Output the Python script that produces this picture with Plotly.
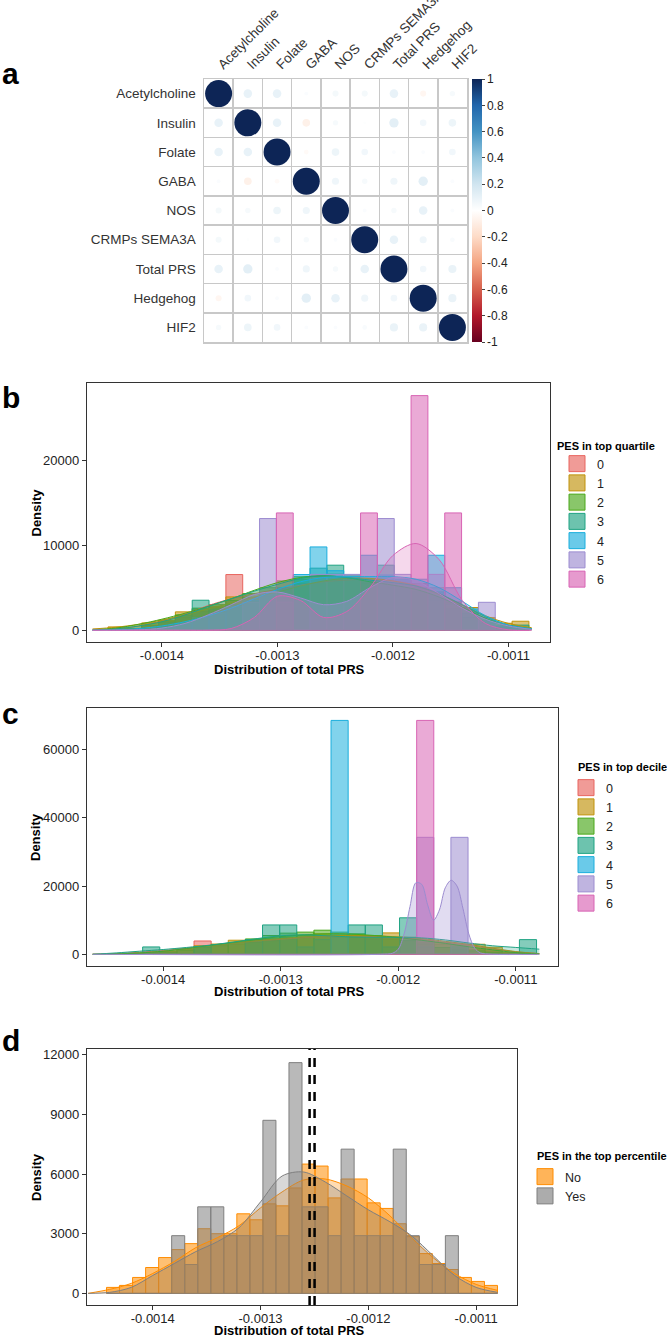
import plotly.graph_objects as go

W, H = 667, 1337
FONT = "Liberation Sans, Arial, Helvetica, sans-serif"
_BLACK = "#000000"
_TXT = "#222222"

# ---------------- panel a: correlation matrix ----------------
pathways = ["Acetylcholine", "Insulin", "Folate", "GABA", "NOS",
            "CRMPs SEMA3A", "Total PRS", "Hedgehog", "HIF2"]
corr_matrix = [
    [1.00, 0.10, 0.10, 0.02, 0.05, 0.05, 0.10, -0.05, 0.04],
    [0.10, 1.00, 0.10, -0.08, 0.04, 0.01, 0.12, 0.06, 0.08],
    [0.10, 0.10, 1.00, -0.03, 0.08, 0.06, 0.02, 0.02, 0.06],
    [0.02, -0.08, -0.03, 1.00, 0.07, 0.04, 0.07, 0.12, 0.02],
    [0.05, 0.04, 0.08, 0.07, 1.00, 0.02, 0.04, 0.10, 0.02],
    [0.05, 0.01, 0.06, 0.04, 0.02, 1.00, 0.10, 0.07, 0.03],
    [0.10, 0.12, 0.02, 0.07, 0.04, 0.10, 1.00, 0.06, 0.09],
    [-0.05, 0.06, 0.02, 0.12, 0.10, 0.07, 0.06, 1.00, 0.09],
    [0.04, 0.08, 0.06, 0.02, 0.02, 0.03, 0.09, 0.09, 1.00],
]
cbar_ticks = [1, 0.8, 0.6, 0.4, 0.2, 0, -0.2, -0.4, -0.6, -0.8, -1]
cbar_text = ["1", "0.8", "0.6", "0.4", "0.2", "0", "-0.2", "-0.4", "-0.6", "-0.8", "-1"]
corr_colors = ["#67001F", "#B2182B", "#D6604D", "#F4A582", "#FDDBC7", "#FFFFFF",
               "#D1E5F0", "#92C5DE", "#4393C3", "#2166AC", "#0D2556"]

# ---------------- histograms (b, c): 25 shared bins ----------------
groups = ["0", "1", "2", "3", "4", "5", "6"]
group_colors = ["#E8655F", "#C0920A", "#4AA81A", "#1FA383", "#1AAEDD", "#9C8CD0", "#D864B4"]
bin_start_bc = -0.0014466
bin_width_bc = 0.00001457

hist_b = [
    [0, 0, 500, 1000, 1500, 2200, 2700, 6550, 3400, 3900, 4500, 5500, 5500, 6000, 6200, 5500, 6000, 6000, 5500, 5000, 3330, 2000, 1000, 500, 0],
    [390, 200, 860, 1180, 2160, 2500, 2750, 3920, 3900, 4300, 4800, 5500, 6000, 6200, 6000, 6000, 5500, 5500, 5000, 4500, 3300, 2670, 1500, 820, 1060],
    [0, 200, 600, 1100, 1800, 2600, 3000, 3500, 4300, 5000, 5800, 6300, 6500, 6600, 6300, 6000, 5500, 5000, 4500, 3500, 2500, 1500, 800, 300, 100],
    [0, 0, 300, 900, 1700, 3530, 2500, 3000, 3500, 4000, 5000, 6000, 7300, 7650, 6500, 6000, 7650, 6000, 5000, 4500, 3000, 2000, 1200, 400, 600],
    [0, 0, 0, 300, 800, 1500, 2000, 2800, 3500, 4200, 5000, 6550, 9800, 7000, 6000, 8820, 6500, 6000, 6000, 8820, 5000, 2500, 1000, 500, 200],
    [0, 0, 0, 0, 0, 0, 0, 0, 3285, 13140, 3285, 0, 6570, 6570, 6570, 0, 13140, 6570, 0, 6570, 0, 0, 3285, 0, 0],
    [0, 0, 0, 0, 0, 0, 0, 0, 0, 0, 13800, 0, 0, 0, 0, 13800, 0, 0, 27600, 0, 13800, 0, 0, 0, 0],
]
hist_c = [
    [0, 0, 500, 800, 1500, 3900, 2500, 3000, 3500, 4000, 4500, 5000, 5500, 5000, 5000, 4500, 4500, 4000, 3500, 3000, 2500, 1500, 1000, 500, 0],
    [0, 0, 400, 800, 1500, 2500, 3000, 4120, 4000, 4500, 5000, 5500, 6000, 6000, 5500, 5500, 6270, 5000, 4000, 3500, 3000, 2940, 2060, 500, 0],
    [0, 0, 300, 600, 1200, 2000, 2800, 3500, 4500, 5500, 6200, 6500, 7060, 6500, 6000, 5500, 5000, 4000, 3000, 2000, 1500, 1000, 600, 300, 0],
    [0, 0, 2150, 0, 0, 2150, 0, 0, 4300, 8600, 8600, 2150, 4300, 0, 8600, 8600, 2150, 10700, 2150, 0, 2150, 0, 0, 0, 4300],
    [0, 0, 0, 0, 0, 0, 0, 0, 0, 0, 0, 0, 0, 68600, 0, 0, 0, 0, 0, 0, 0, 0, 0, 0, 0],
    [0, 0, 0, 0, 0, 0, 0, 0, 0, 0, 0, 0, 0, 0, 0, 0, 0, 0, 34300, 0, 34300, 0, 0, 0, 0],
    [0, 0, 0, 0, 0, 0, 0, 0, 0, 0, 0, 0, 0, 0, 0, 0, 0, 0, 68600, 0, 0, 0, 0, 0, 0],
]

# density curves
kde_x = [-0.00146, -0.00144, -0.00142, -0.00140, -0.00138, -0.00136, -0.00134,
         -0.00132, -0.00130, -0.00128, -0.00126, -0.00124, -0.00122, -0.00120,
         -0.00118, -0.00116, -0.00114, -0.00112, -0.00110, -0.00108]
kde_b = [
    [0, 150, 500, 1100, 1900, 2900, 3700, 4300, 4800, 5300, 5700, 5900, 6000, 5800, 5300, 4300, 2900, 1400, 500, 100],
    [150, 350, 700, 1200, 1800, 2500, 3200, 3900, 4500, 5200, 5800, 6100, 6100, 5800, 5200, 4200, 3000, 1700, 800, 300],
    [50, 250, 700, 1300, 2000, 2800, 3700, 4700, 5600, 6200, 6400, 6200, 5700, 5300, 4800, 3900, 2700, 1400, 500, 150],
    [0, 150, 500, 1000, 1800, 2800, 3700, 4600, 5400, 6100, 6400, 6200, 5900, 5600, 5200, 4300, 3000, 1600, 600, 200],
    [0, 50, 200, 500, 1000, 1700, 2600, 3700, 4800, 5700, 6200, 6300, 6300, 6300, 6000, 5000, 3400, 1700, 600, 150],
    [0, 0, 50, 250, 800, 1800, 3000, 4200, 4500, 3800, 3000, 3400, 5000, 6200, 5800, 4300, 2600, 1300, 500, 100],
    [0, 0, 0, 0, 0, 0, 200, 1500, 4000, 3500, 1500, 2200, 5000, 8800, 10200, 8300, 3500, 800, 50, 0],
]
kde_c = [
    [0, 200, 600, 1100, 1800, 2600, 3300, 3900, 4400, 4900, 5200, 5300, 5200, 4900, 4300, 3500, 2600, 1600, 700, 200],
    [0, 100, 400, 900, 1600, 2500, 3300, 4000, 4600, 5100, 5400, 5500, 5400, 5100, 4600, 3800, 2900, 1800, 800, 200],
    [0, 100, 400, 900, 1700, 2600, 3500, 4400, 5200, 5700, 6000, 5900, 5500, 4900, 4100, 3200, 2200, 1300, 500, 100],
    [0, 400, 900, 1400, 2000, 2700, 3600, 4600, 5400, 5700, 5400, 5100, 5000, 5000, 4800, 4200, 3300, 2500, 2000, 1500],
]
kde_c5_x = [-0.00146, -0.001215, -0.001205, -0.00120, -0.001195, -0.00119, -0.001185,
            -0.00118, -0.001175, -0.00117, -0.001165, -0.00116, -0.001155, -0.00115,
            -0.001145, -0.00114, -0.001135, -0.00113, -0.00112, -0.00108]
kde_c5_y = [0, 0, 300, 1500, 6000, 14000, 21000, 20500, 14500, 10000, 13000, 19500,
            21700, 20000, 13500, 6000, 1800, 400, 0, 0]

# ---------------- panel d ----------------
pct_groups = ["No", "Yes"]
pct_colors = ["#FF8C00", "#7F7F7F"]
bin_start_d = -0.0014429
bin_width_d = 0.00001209
hist_d = [
    [300, 400, 800, 1300, 1800, 2200, 2500, 3250, 3000, 3000, 4000, 3700, 4500, 4400, 5300,
     6500, 6400, 4800, 5750, 5750, 4550, 4270, 3500, 2850, 2000, 1500, 1200, 800, 600, 400],
    [0, 0, 0, 0, 0, 2900, 1450, 4350, 4350, 2900, 2900, 2900, 8700, 2900, 11600,
     4350, 4350, 2900, 7250, 2900, 2900, 2900, 7250, 2900, 1450, 1450, 2900, 0, 0, 0],
]
kde_d = [
    [0, 200, 500, 1000, 1600, 2300, 2800, 3400, 4300, 5100, 5700, 5750, 5400, 4800, 3900, 2800, 1800, 1000, 450, 150],
    [0, 50, 300, 900, 1500, 2100, 2600, 3300, 4600, 5900, 6100, 5600, 4900, 4200, 3600, 2900, 1900, 900, 300, 50],
]
group_means_d = [-0.0012545, -0.0012499]

prs_ticks = [-0.0014, -0.0013, -0.0012, -0.0011]
prs_ticktext = ["-0.0014", "-0.0013", "-0.0012", "-0.0011"]
dens_ticks_b = [0, 10000, 20000]
dens_ticks_c = [0, 20000, 40000, 60000]
dens_ticks_d = [0, 3000, 6000, 9000, 12000]


def rgba(hex_color, a):
    h = hex_color.lstrip("#")
    r, g, b = (int(h[i:i + 2], 16) for i in (0, 2, 4))
    return f"rgba({r},{g},{b},{a})"


def fx(px):
    return px / W


def fy(py):
    return 1 - py / H


fig = go.Figure()

# ---- a: corrplot circles
cx, cy, cv, cs = [], [], [], []
for i, row in enumerate(corr_matrix):
    for j, v in enumerate(row):
        cx.append(j)
        cy.append(i)
        cv.append(v)
        cs.append(27 * abs(v) ** 0.5)
fig.add_trace(go.Scatter(
    x=cx, y=cy, mode="markers", xaxis="x", yaxis="y", showlegend=False,
    marker=dict(
        size=cs, color=cv, cmin=-1, cmax=1, opacity=1,
        colorscale=[[k / 10, c] for k, c in enumerate(corr_colors)],
        line=dict(width=0), showscale=True,
        colorbar=dict(
            x=fx(472), xanchor="left", y=fy((79 + 342) / 2), yanchor="middle",
            len=263 / H, lenmode="fraction", thickness=10, outlinewidth=0,
            xpad=0, ypad=0, tickvals=cbar_ticks, ticktext=cbar_text,
            ticks="outside", ticklen=3, tickcolor="#444",
            tickfont=dict(size=12, color=_TXT, family=FONT),
        ),
    ),
    hoverinfo="skip",
))


def add_hist_panel(xa, ya, start, width, hist, hist_colors, kdes, names, legend,
                   alpha_bar=0.55):
    centers = [start + width * (k + 0.5) for k in range(len(hist[0]))]
    for vals, col in zip(hist, hist_colors):
        fig.add_trace(go.Bar(
            x=centers, y=vals, width=width, xaxis=xa, yaxis=ya, showlegend=False,
            marker=dict(color=rgba(col, alpha_bar), line=dict(color=col, width=1)),
        ))
    for kx, ky, col, a in kdes:
        fig.add_trace(go.Scatter(
            x=kx, y=ky, mode="lines", xaxis=xa, yaxis=ya, showlegend=False,
            line=dict(color=col, width=1, shape="spline", smoothing=0.9),
            fill="tozeroy", fillcolor=rgba(col, a),
        ))
    for name, col in zip(names, hist_colors):
        fig.add_trace(go.Scatter(
            x=[None], y=[None], mode="markers", xaxis=xa, yaxis=ya, name=name,
            legend=legend, showlegend=True,
            marker=dict(symbol="square", size=16, color=rgba(col, 0.65),
                        line=dict(color=col, width=1)),
        ))


kde_alpha_b = [0.28, 0.28, 0.28, 0.28, 0.28, 0.4, 0.25]
add_hist_panel("x2", "y2", bin_start_bc, bin_width_bc, hist_b, group_colors,
               [(kde_x, k, c, a) for k, c, a in zip(kde_b, group_colors, kde_alpha_b)],
               groups, "legend")
add_hist_panel("x3", "y3", bin_start_bc, bin_width_bc, hist_c, group_colors,
               [(kde_x, k, c, 0.26) for k, c in zip(kde_c, group_colors[:4])]
               + [(kde_c5_x, kde_c5_y, group_colors[5], 0.3)],
               groups, "legend2")
add_hist_panel("x4", "y4", bin_start_d, bin_width_d, hist_d, pct_colors,
               [(kde_x, k, c, 0.3) for k, c in zip(kde_d, pct_colors)],
               pct_groups, "legend3")

for m in group_means_d:
    fig.add_shape(type="line", xref="x4", yref="y4 domain", x0=m, x1=m, y0=0, y1=1,
                  line=dict(color=_BLACK, width=2.5, dash="9px,8px"))

grid = "#c8c8c8"
corr_axis = dict(
    range=[-0.5, 8.5], tickmode="array", tickvals=list(range(9)), ticktext=pathways,
    showgrid=False, zeroline=False, ticks="", showline=True, mirror=True,
    linecolor=grid, linewidth=1.5, tickfont=dict(size=13.5, color="#333", family=FONT),
    minor=dict(tick0=-0.5, dtick=1, showgrid=True, gridcolor=grid, gridwidth=1.5, ticks=""),
    fixedrange=True,
)
hist_x = dict(
    tickmode="array", tickvals=prs_ticks, ticktext=prs_ticktext, ticks="outside",
    ticklen=4, tickcolor="#333", showline=True, mirror=True, linecolor="#333",
    linewidth=1.2, showgrid=False, zeroline=False, ticklabelstandoff=-3,
    tickfont=dict(size=13, color=_TXT, family=FONT),
)
hist_y = dict(
    tickmode="array", ticks="outside", ticklen=4, tickcolor="#333", showline=True,
    mirror=True, linecolor="#333", linewidth=1.2, showgrid=False, zeroline=False,
    tickfont=dict(size=13, color=_TXT, family=FONT),
)
leg = dict(xanchor="left", yanchor="top", font=dict(size=12.5, color=_TXT, family=FONT),
           bgcolor="rgba(0,0,0,0)", tracegroupgap=0, itemsizing="trace")

fig.update_layout(
    width=W, height=H, margin=dict(l=0, r=0, t=0, b=0),
    paper_bgcolor="white", plot_bgcolor="white", template="none",
    font=dict(family=FONT, color=_TXT), barmode="overlay", hovermode=False,
    xaxis=dict(corr_axis, domain=[fx(204), fx(467)], anchor="y", side="top",
               tickangle=-45, ticklabelstandoff=0),
    yaxis=dict(corr_axis, domain=[fy(342), fy(79)], anchor="x",
               range=[8.5, -0.5], ticklabelstandoff=4),
    xaxis2=dict(hist_x, domain=[fx(87), fx(550)], anchor="y2", range=[-0.0014648, -0.0010641]),
    yaxis2=dict(hist_y, domain=[fy(642), fy(383)], anchor="x2", range=[-1385, 29085],
                tickvals=dens_ticks_b, ticktext=[str(v) for v in dens_ticks_b]),
    xaxis3=dict(hist_x, domain=[fx(87), fx(558)], anchor="y3", range=[-0.0014648, -0.0010641]),
    yaxis3=dict(hist_y, domain=[fy(966), fy(708)], anchor="x3", range=[-3440, 72240],
                tickvals=dens_ticks_c, ticktext=[str(v) for v in dens_ticks_c]),
    xaxis4=dict(hist_x, domain=[fx(87), fx(517)], anchor="y4", range=[-0.0014610, -0.0010621]),
    yaxis4=dict(hist_y, domain=[fy(1305), fy(1049)], anchor="x4", range=[-585, 12285],
                tickvals=dens_ticks_d, ticktext=[str(v) for v in dens_ticks_d]),
    legend=dict(leg, x=fx(557), y=fy(449)),
    legend2=dict(leg, x=fx(566), y=fy(773)),
    legend3=dict(leg, x=fx(525), y=fy(1162)),
)

ann = []
for letter, py in [("a", 74), ("b", 397), ("c", 713), ("d", 1040)]:
    ann.append(dict(text=f"<b>{letter}</b>", x=fx(0), y=fy(py), xref="paper", yref="paper",
                    xanchor="left", yanchor="middle", showarrow=False,
                    font=dict(size=30, color=_BLACK, family=FONT)))
for py in [669, 991, 1330]:
    ann.append(dict(text="<b>Distribution of total PRS</b>", x=fx(289), y=fy(py),
                    xref="paper", yref="paper", xanchor="center", yanchor="middle",
                    showarrow=False, font=dict(size=13, color=_BLACK, family=FONT)))
for py in [512.5, 837, 1177]:
    ann.append(dict(text="<b>Density</b>", x=fx(36), y=fy(py), xref="paper", yref="paper",
                    xanchor="center", yanchor="middle", textangle=-90, showarrow=False,
                    font=dict(size=13, color=_BLACK, family=FONT)))
for title, px, py in [("PES in top quartile", 555, 446), ("PES in top decile", 576, 767),
                      ("PES in the top percentile", 535, 1156)]:
    ann.append(dict(text=f"<b>{title}</b>", x=fx(px), y=fy(py), xref="paper", yref="paper",
                    xanchor="left", yanchor="middle", showarrow=False,
                    font=dict(size=11, color=_BLACK, family=FONT)))
fig.update_layout(annotations=ann)

# the page's default body margin would shift the 667x1337 figure and add scrollbars
fig.write_html(
    "out.html",
    config={"displayModeBar": False, "staticPlot": True},
    post_script="document.body.style.margin='0';document.body.style.overflow='hidden';",
)
